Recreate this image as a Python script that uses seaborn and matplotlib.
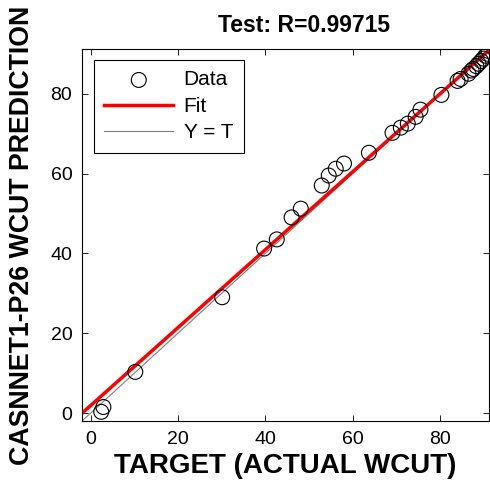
import numpy as np
import pandas as pd
import matplotlib
matplotlib.use("Agg")
import matplotlib.pyplot as plt
import seaborn as sns

# values
target = [2.4, 2.9, 10.2, 30.1, 39.7, 42.6, 46.0, 48.1, 52.9, 54.5, 56.1, 58.0,
          63.7, 69.1, 71.0, 72.6, 74.4, 75.5, 80.3, 84.0, 84.7, 86.5, 87.2,
          87.6, 88.3, 88.8, 89.4, 89.9, 90.4, 90.8, 91.1]
output = [0.3, 1.5, 10.3, 29.0, 41.2, 43.5, 49.0, 51.2, 57.0, 59.5, 61.2, 62.5,
          65.2, 70.2, 71.5, 72.5, 74.2, 76.0, 79.7, 83.2, 83.7, 85.0, 85.8,
          86.2, 86.9, 87.5, 88.2, 88.8, 89.5, 90.0, 90.7]
fit_slope = 0.976
fit_intercept = 1.9
r_value = "0.99715"
ticks = [0, 20, 40, 60, 80]
lims = [-2, 91.2]

df = pd.DataFrame({"target": target, "output": output})
line_x = np.array(lims)
lines = pd.DataFrame({"x": line_x,
                      "fit": fit_slope * line_x + fit_intercept,
                      "yt": line_x})

plt.rcParams["font.family"] = ["Liberation Sans", "DejaVu Sans"]
plt.rcParams["xtick.direction"] = "in"
plt.rcParams["ytick.direction"] = "in"

fig = plt.figure(figsize=(4.9, 4.86), dpi=100)
ax = fig.add_axes([82 / 490, 1 - 421 / 486, 407 / 490, 372 / 486])

sns.scatterplot(data=df, x="target", y="output", marker="o", s=115,
                fc="none", ec="black", linewidth=0.8, label="Data", ax=ax,
                zorder=3)
sns.lineplot(data=lines, x="x", y="fit", color="red", linewidth=2.5,
             label="Fit", ax=ax, zorder=2)
sns.lineplot(data=lines, x="x", y="yt", color="gray", linewidth=0.8,
             label="Y = T", ax=ax, zorder=1)

ax.set_xlim(lims)
ax.set_ylim(lims)
ax.set_xticks(ticks)
ax.set_yticks(ticks)
ax.tick_params(top=True, right=True, labelsize=14, length=4, width=0.6, pad=7)
for sp in ax.spines.values():
    sp.set_linewidth(0.8)

ax.set_title(f"Test: R={r_value}", fontsize=16.5, fontweight="bold", pad=12,
             x=0.545)
ax.set_xlabel("TARGET (ACTUAL WCUT)", fontsize=20, fontweight="bold", labelpad=4)
ax.set_ylabel("CASNNET1-P26 WCUT PREDICTION", fontsize=19.3, fontweight="bold",
              labelpad=11)

leg = ax.legend(loc="upper left", fontsize=15, frameon=True, fancybox=False,
                edgecolor="black", framealpha=1, handlelength=3.3,
                handletextpad=0.5, borderpad=0.5, labelspacing=0.36,
                borderaxespad=0, bbox_to_anchor=(12 / 407, 1 - 11 / 372))
leg.get_frame().set_linewidth(0.8)

fig.savefig("out.png", dpi=100)
